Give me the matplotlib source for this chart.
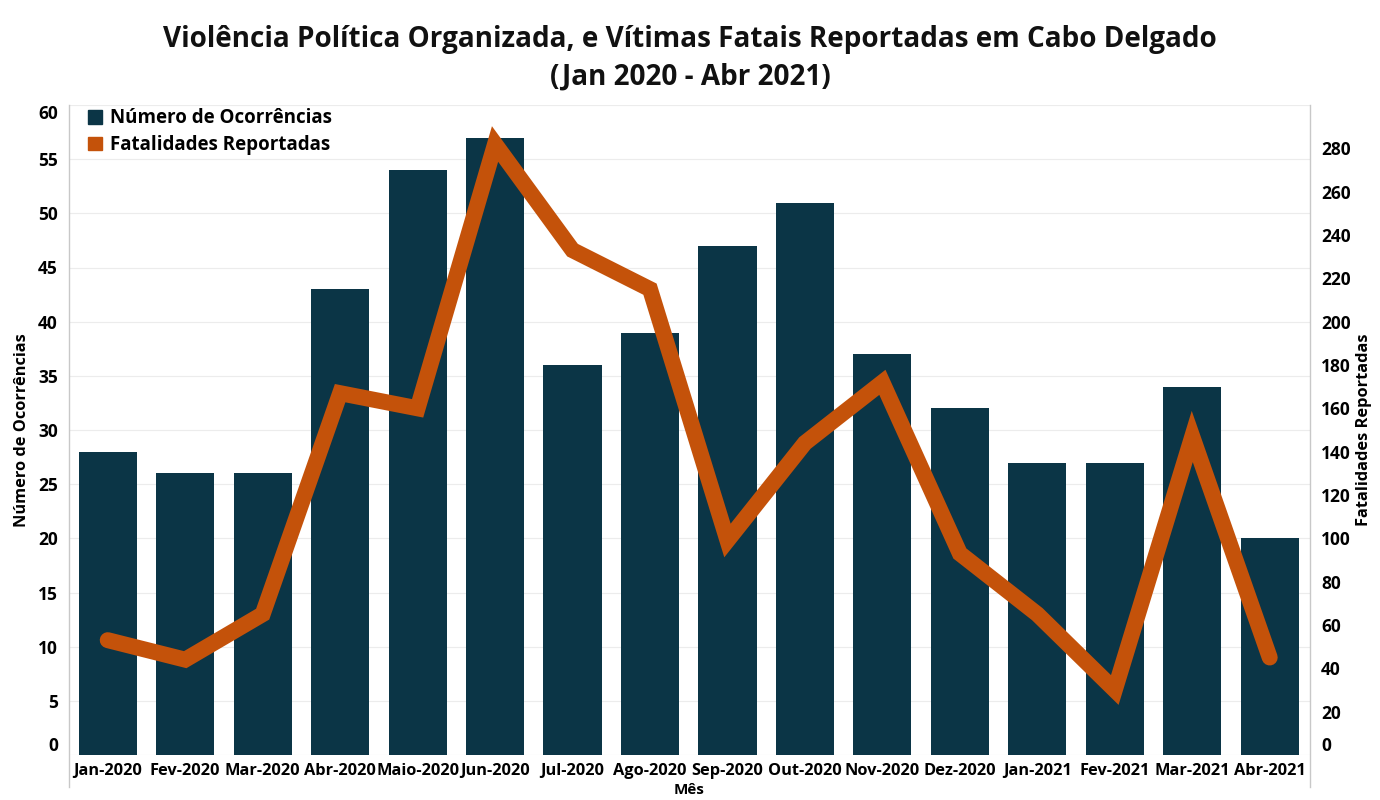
import matplotlib
matplotlib.use("Agg")
import matplotlib.pyplot as plt
from matplotlib.lines import Line2D
from matplotlib.patches import Patch

months = ["Jan-2020", "Fev-2020", "Mar-2020", "Abr-2020", "Maio-2020", "Jun-2020",
          "Jul-2020", "Ago-2020", "Sep-2020", "Out-2020", "Nov-2020", "Dez-2020",
          "Jan-2021", "Fev-2021", "Mar-2021", "Abr-2021"]
ocorrencias = [28, 26, 26, 43, 54, 57, 36, 39, 47, 51, 37, 32, 27, 27, 34, 20]
fatalidades = [53, 44, 65, 167, 160, 282, 233, 215, 99, 144, 172, 93, 65, 30, 147, 45]

left_ticks = list(range(0, 61, 5))
right_ticks = list(range(0, 281, 20))

BAR_C = "#0b3546"
LINE_C = "#c4520a"
FONT = ["Open Sans", "DejaVu Sans"]

plt.rcParams["font.family"] = FONT
plt.rcParams["font.weight"] = "bold"

fig = plt.figure(figsize=(13.8, 8), dpi=100)
ax = fig.add_axes([69/1380, 1-755/800, (1310-69)/1380, (755-105)/800])
ax2 = ax.twinx()

x = list(range(len(months)))
ax.bar(x, ocorrencias, width=0.75, color=BAR_C, zorder=2)
ax2.plot(x, fatalidades, color=LINE_C, lw=11.5, solid_capstyle="round",
         solid_joinstyle="miter", zorder=3)

ax.set_xlim(-0.5, 15.52)
ax.set_ylim(0, 60)
ax2.set_ylim(0, 300)

ax.set_yticks(left_ticks)
ax2.set_yticks(right_ticks)
ax.set_xticks(x)
ax.set_xticklabels(months, fontsize=11.8, fontweight="bold")
ax.set_yticklabels([str(t) for t in left_ticks], fontsize=12.5, fontweight="bold")
ax2.set_yticklabels([str(t) for t in right_ticks], fontsize=12.5, fontweight="bold")
lbls = ax.get_yticklabels()
lbls[0].set_va("bottom")
lbls[-1].set_va("top")
ax2.get_yticklabels()[0].set_va("bottom")

ax.tick_params(axis="y", length=0, pad=8)
ax2.tick_params(axis="y", length=0, pad=8)
ax.tick_params(axis="x", length=0, pad=6)

ax.grid(axis="y", color="#ececec", lw=0.8, zorder=0)
ax.set_axisbelow(True)
for a in (ax, ax2):
    for s in a.spines.values():
        s.set_visible(False)

# vertical frame lines extending below the plot
for xf in (69/1380, 1310/1380):
    fig.add_artist(Line2D([xf, xf], [1-105/800, 1-787/800], transform=fig.transFigure,
                          color="#c8c8c8", lw=1))

ax.set_ylabel("Número de Ocorrências", fontsize=11.8, fontweight="bold", labelpad=6)
ax2.set_ylabel("Fatalidades Reportadas", fontsize=11.8, fontweight="bold", labelpad=4)
ax.set_xlabel("Mês", fontsize=11, fontweight="bold", labelpad=3)

fig.text(0.5, 1-39/800, "Violência Política Organizada, e Vítimas Fatais Reportadas em Cabo Delgado",
         ha="center", va="center", fontsize=20.1, fontweight="bold", color="#111111")
fig.text(0.5, 1-77/800, "(Jan 2020 - Abr 2021)",
         ha="center", va="center", fontsize=20.1, fontweight="bold", color="#111111")

handles = [Patch(color=BAR_C, label="Número de Ocorrências"),
           Patch(color=LINE_C, label="Fatalidades Reportadas")]
leg = ax2.legend(handles=handles, loc="upper left", bbox_to_anchor=(0.006, 1.012),
                 frameon=False, fontsize=13.5, handlelength=0.75, handleheight=0.75,
                 handletextpad=0.45, labelspacing=0.35, borderaxespad=0.2)
for t in leg.get_texts():
    t.set_fontweight("bold")

fig.savefig("out.png", dpi=100, facecolor="white")
